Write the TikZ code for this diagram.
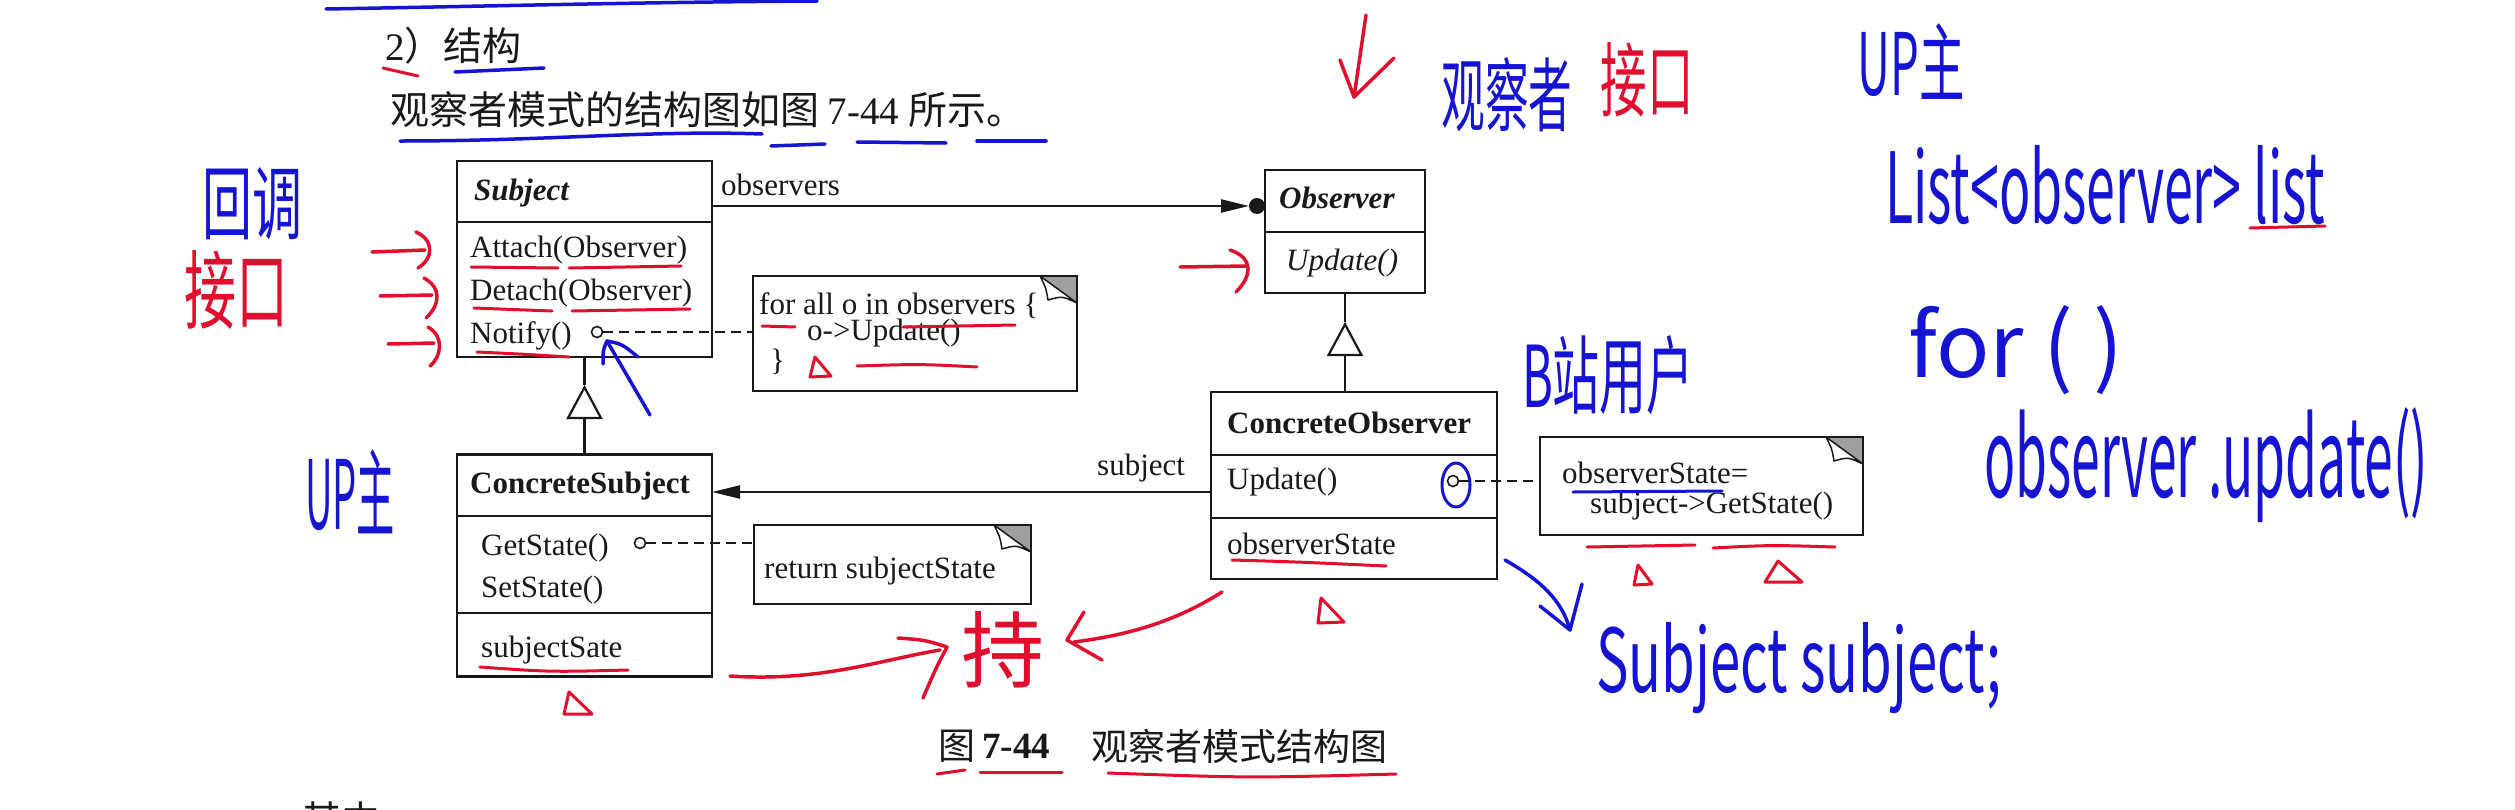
\documentclass[tikz,border=0pt]{standalone}
\usepackage{fontspec}
\usepackage{graphicx}
\usetikzlibrary{arrows.meta,calc}
\newfontfamily\tnr{Liberation Serif}
\newfontfamily\cjk{Noto Sans CJK SC}
\newcommand\umlsize{\fontsize{31}{31}\selectfont}
\newcommand\titlesize{\fontsize{39}{39}\selectfont}
\newcommand\capsize{\fontsize{37}{37}\selectfont}
\definecolor{pen}{RGB}{20,20,210}
\definecolor{ink}{RGB}{225,15,45}
\definecolor{txt}{RGB}{25,25,25}
\newcommand\handbox[3]{\resizebox{#1pt}{#2pt}{\cjk #3}}
\newcommand\dogear[1]{%
  \fill[gray!75] ($(#1.north east)+(-37,0)$) -- (#1.north east) -- ($(#1.north east)+(0,27)$) -- cycle;
  \filldraw[fill=white, draw=txt, line width=1.5pt, line join=round] ($(#1.north east)+(-37,0)$) .. controls ($(#1.north east)+(-31,12)$) .. ($(#1.north east)+(-29,24)$) .. controls ($(#1.north east)+(-15,20)$) .. ($(#1.north east)+(0,27)$) -- cycle;
  \draw[txt, line width=2.5pt] (#1.north west) rectangle (#1.south east);}
\tikzset{
  box/.style={draw=txt, line width=2.5pt, inner sep=0pt, outer sep=0pt, fill=white, rectangle},
  uml/.style={font=\tnr\umlsize, text=txt, anchor=base west, inner sep=0pt},
  umlb/.style={uml, font=\tnr\umlsize\bfseries},
  umlbi/.style={uml, font=\tnr\umlsize\bfseries\itshape},
  umli/.style={uml, font=\tnr\umlsize\itshape},
  sepline/.style={draw=txt, line width=2.5pt},
  conn/.style={draw=txt, line width=2.2pt},
  notelink/.style={draw=txt, line width=2pt, dash pattern=on 10pt off 6pt},
  port/.style={circle, draw=txt, line width=1.6pt, minimum size=11pt, inner sep=0pt, outer sep=0pt, fill=white},
  redpen/.style={draw=ink, line width=3.5pt, line cap=round, line join=round},
  bluepen/.style={draw=pen, line width=3.5pt, line cap=round, line join=round},
  handred/.style={inner sep=0pt, text=ink},
  handblue/.style={inner sep=0pt, text=pen},
  inh/.style={conn, -{Triangle[open, length=34pt, width=36pt, line width=2.2pt]}},
  assoc/.style={conn, -{Triangle[length=28pt, width=13pt]}},
}
\begin{document}
\begin{tikzpicture}[x=1pt, y=-1pt]
\useasboundingbox (0,0) rectangle (2515,809);
\clip (0,0) rectangle (2515,809);
\fill[white] (0,0) rectangle (2515,809);

% ---------- printed text ----------
\node[anchor=base west, inner sep=0pt, text=txt, font=\titlesize] (t1) at (385,60) {{\tnr 2}\cjk ）结构};
\node[anchor=west, inner sep=0pt, text=txt, font=\titlesize] (t2) at (390,110) {\cjk 观察者模式的结构图如图 {\tnr 7-44} 所示。};
\node[anchor=west, inner sep=0pt, text=txt, font=\capsize\cjk] (c1) at (938,746) {图};
\node[anchor=west, inner sep=0pt, text=txt, font=\capsize\tnr\bfseries] (c2) at (982,746) {7-44};
\node[anchor=west, inner sep=0pt, text=txt, font=\capsize\cjk] (c3) at (1091,746) {观察者模式结构图};
\node[anchor=base west, inner sep=0pt, text=txt, font=\titlesize\cjk] (qz) at (302,834) {其中};

% ---------- boxes ----------
\node[box, minimum width=255pt, minimum height=196pt] (subj) at (584.5,259) {};
\node[box, minimum width=255pt, minimum height=222pt] (csubj) at (584.5,565.5) {};
\node[box, minimum width=160pt, minimum height=123pt] (obs) at (1345,231.5) {};
\node[box, minimum width=286pt, minimum height=187pt] (cobs) at (1354,485.5) {};
\node[box, minimum width=324pt, minimum height=115pt] (note1) at (915,333.5) {};
\node[box, minimum width=277pt, minimum height=79pt] (note2) at (892.5,564.5) {};
\node[box, minimum width=323pt, minimum height=98pt] (note3) at (1701.5,486) {};
\dogear{note1}
\dogear{note2}
\dogear{note3}

\draw[sepline] (subj.west |- 0,222) -- (subj.east |- 0,222);
\draw[sepline] (csubj.west |- 0,516) -- (csubj.east |- 0,516);
\draw[sepline] (csubj.west |- 0,613) -- (csubj.east |- 0,613);
\draw[sepline] (obs.west |- 0,232) -- (obs.east |- 0,232);
\draw[sepline] (cobs.west |- 0,455) -- (cobs.east |- 0,455);
\draw[sepline] (cobs.west |- 0,518) -- (cobs.east |- 0,518);

% ---------- class texts ----------
\node[umlbi] (sname) at (474,200) {Subject};
\node[uml] (sm1) at (470,257) {Attach(Observer)};
\node[uml] (sm2) at (470,300) {Detach(Observer)};
\node[uml] (sm3) at (470,343) {Notify()};

\node[umlbi] (oname) at (1279,208) {Observer};
\node[umli] (om1) at (1286,270) {Update()};

\node[umlb] (csname) at (470,493) {ConcreteSubject};
\node[uml] (csm1) at (481,555) {GetState()};
\node[uml] (csm2) at (481,597) {SetState()};
\node[uml] (csa1) at (481,657) {subjectSate};

\node[umlb] (coname) at (1227,433) {ConcreteObserver};
\node[uml] (com1) at (1227,489) {Update()};
\node[uml] (coa1) at (1227,554) {observerState};

\node[uml, align=left, font=\tnr\fontsize{31}{24}\selectfont] (n1a) at (759,370) {for all o in observers \{\\\hspace*{48pt}o->Update()\\\hspace*{11pt}\}};
\node[uml] (n2a) at (764,578) {return subjectState};
\node[uml, align=left, font=\tnr\fontsize{31}{30}\selectfont] (n3a) at (1562,513) {observerState=\\\hspace*{28pt}subject->GetState()};

\node[uml] (lobs) at (721,195) {observers};
\node[uml] (lsub) at (1097,475) {subject};

% ---------- connectors ----------
\node[circle, fill=txt, minimum size=16pt, inner sep=0pt, outer sep=0pt] (dot1) at (1257,206) {};
\draw[assoc] (subj.east |- dot1) -- (dot1.west);
\draw[assoc] (cobs.west |- 0,492) -- (csubj.east |- 0,492);

\node[port] (p1) at (597,332) {};
\node[port] (p2) at (640,543) {};
\node[port] (p3) at (1453,481) {};
\draw[notelink] (p1.east) -- (note1.west |- p1);
\draw[notelink] (p2.east) -- (note2.west |- p2);
\draw[notelink] (p3.east) -- (note3.west |- p3);

\coordinate (g1) at (584.5,385);
\draw[conn] (subj.south) -- (g1);
\draw[inh] (csubj.north) -- (g1);
\coordinate (g2) at (1345,322);
\draw[conn] (obs.south) -- (g2);
\draw[inh] (obs.south |- cobs.north) -- (g2);

% ---------- handwritten annotations ----------
\node[handblue] (h1) at (252,204) {\handbox{100}{66}{回调}};
\node[handred] (h2) at (236,290) {\handbox{104}{72}{接口}};
\node[handblue] (h3) at (1507,95) {\handbox{131}{68}{观察者}};
\node[handred] (h4) at (1647,80) {\handbox{93}{68}{接口}};
\node[handblue] (h5) at (1911,61) {\handbox{107}{72}{UP主}};
\node[handblue] (h6) at (2105,185) {\handbox{440}{78}{List<observer> list}};
\node[handblue] (h7) at (2016,350) {\handbox{215}{72}{for ( )}};
\node[handblue] (h8) at (1608,375) {\handbox{172}{72}{B站用户}};
\node[handblue, anchor=base west] (h9) at (1984,497) {\handbox{444}{90}{observer .update()}};
\node[handblue, anchor=base west] (h10) at (1596,692) {\handbox{405}{70}{Subject subject;}};
\node[handblue] (h11) at (350,492) {\handbox{90}{80}{UP主}};
\node[handred] (h12) at (1003,650) {\handbox{83}{70}{持}};

% red arrows at Subject methods and Update
\draw[redpen] (372,252) -- (425,250);
\draw[redpen] (416,232) .. controls (434,240) and (434,258) .. (418,268);
\draw[redpen] (380,296) -- (432,295);
\draw[redpen] (424,278) .. controls (442,288) and (440,305) .. (426,318);
\draw[redpen] (388,344) -- (434,343);
\draw[redpen] (428,327) .. controls (444,336) and (442,356) .. (430,366);
\draw[redpen] (1180,267) -- (1247,266);
\draw[redpen] (1230,250) .. controls (1254,258) and (1252,276) .. (1236,292);
% red down arrow
\draw[redpen] (1366,15) -- (1354,97);
\draw[redpen] (1340,60) -- (1354,97) -- (1394,58);
% red arrows towards the state note
\draw[redpen] (730,676) .. controls (820,682) and (880,660) .. (940,650);
\draw[redpen] (898,638) .. controls (925,640) .. (947,647) .. controls (936,668) .. (923,698);
\draw[redpen] (1222,592) .. controls (1170,625) and (1120,636) .. (1074,642);
\draw[redpen] (1084,612) -- (1067,640) -- (1102,660);

% blue arrows
\draw[bluepen] (650,415) -- (607,341);
\draw[bluepen] (603,364) .. controls (603,350) .. (607,341) .. controls (622,344) .. (638,357);
\draw[bluepen] (1505,560) .. controls (1540,580) and (1562,600) .. (1570,630);
\draw[bluepen] (1540,606) -- (1570,630) -- (1582,584);
\draw[bluepen, line width=3pt] (1456,485) ellipse [x radius=14, y radius=22];

% red underlines
\draw[redpen, line width=3pt] (471,267) -- (558,268);
\draw[redpen, line width=3pt] (569,268) -- (681,266);
\draw[redpen, line width=3pt] (474,308) -- (552,311);
\draw[redpen, line width=3pt] (572,311) -- (690,309);
\draw[redpen, line width=3pt] (477,352) .. controls (520,354) .. (569,357);
\draw[redpen, line width=3pt] (762,326) -- (795,327);
\draw[redpen, line width=3pt] (903,327) -- (1015,325);
\draw[redpen, line width=3pt] (857,366) .. controls (920,364) .. (977,367);
\draw[redpen, line width=3pt] (1232,560) .. controls (1300,562) .. (1386,566);
\draw[redpen, line width=3pt] (480,667) .. controls (550,672) .. (628,670);
\draw[redpen, line width=3pt] (1587,547) -- (1695,545);
\draw[redpen, line width=3pt] (1713,548) .. controls (1770,545) .. (1835,547);
\draw[redpen, line width=3pt] (2250,228) -- (2325,226);
\draw[redpen, line width=3pt] (383,68) -- (418,76);
\draw[redpen, line width=3pt] (937,774) -- (965,770);
\draw[redpen, line width=3pt] (980,772) -- (1062,772);
\draw[redpen, line width=3pt] (1108,773) .. controls (1250,778) .. (1396,774);
% red triangles
\draw[redpen, line width=3pt] (815,357) -- (810,377) -- (831,376) -- cycle;
\draw[redpen, line width=3pt] (1638,565) -- (1634,585) -- (1652,584) -- cycle;
\draw[redpen, line width=3pt] (1778,561) -- (1765,582) -- (1802,582) -- cycle;
\draw[redpen, line width=3pt] (1321,598) -- (1318,623) -- (1344,622) -- cycle;
\draw[redpen, line width=3pt] (569,692) -- (564,714) -- (592,714) -- cycle;

% blue underlines
\draw[bluepen] (326,9) .. controls (500,6) and (650,2) .. (817,1);
\draw[bluepen] (455,72) -- (544,68);
\draw[bluepen] (400,141) .. controls (550,141) and (650,130) .. (762,134);
\draw[bluepen] (771,146) -- (825,144);
\draw[bluepen] (857,142) -- (946,143);
\draw[bluepen] (977,141) -- (1046,141);
\draw[bluepen, line width=3pt] (1573,492) -- (1722,491);
\end{tikzpicture}
\end{document}
